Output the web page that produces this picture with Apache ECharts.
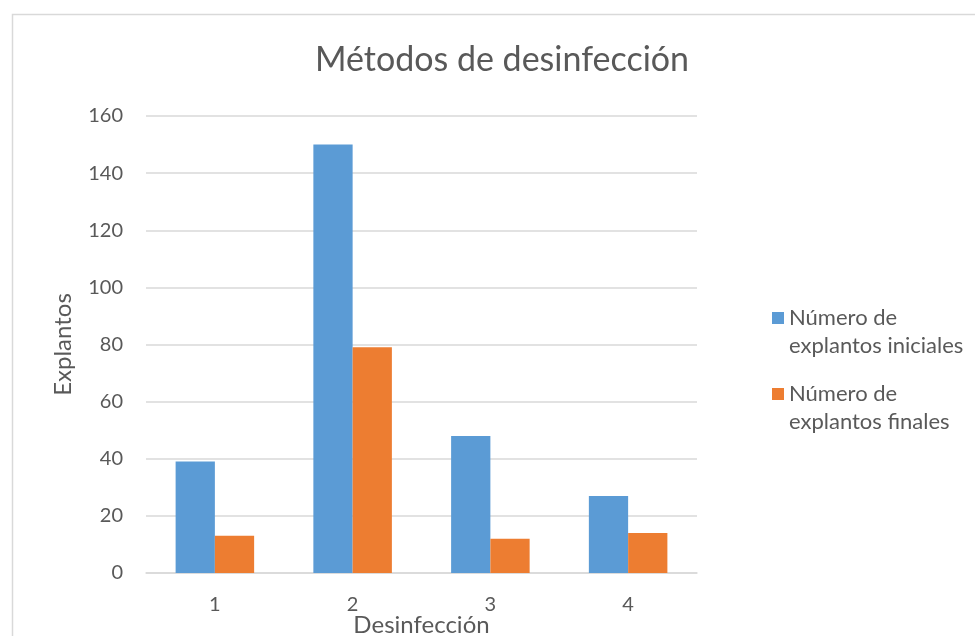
<!DOCTYPE html>
<html>
<head>
<meta charset="utf-8">
<script src="https://cdn.jsdelivr.net/npm/echarts@6/dist/echarts.min.js"></script>
<style>
  html, body { margin: 0; padding: 0; background: #ffffff; overflow: hidden; }
  #chart { width: 975px; height: 636px; }
</style>
</head>
<body>
<div id="chart"></div>
<script>
// Disinfection methods and explant counts
const categories = ['1', '2', '3', '4'];
const initialExplants = [39, 150, 48, 27];
const finalExplants = [13, 79, 12, 14];
const seriesNames = ['Número de\nexplantos iniciales', 'Número de\nexplantos finales'];
const yTicks = { min: 0, max: 160, interval: 20 };

const FONT = 'Lato, "Open Sans", sans-serif';
const TEXT = '#595959';

// Legend swatch sits beside the first text line: a square at the top of a tall, otherwise empty box
const SWATCH = 'path://M0,0H12V12H0Z M0,40H12';

const chart = echarts.init(document.getElementById('chart'), null, { renderer: 'canvas' });

chart.setOption({
  animation: false,
  backgroundColor: '#ffffff',
  textStyle: { fontFamily: FONT },
  graphic: [{
    type: 'rect',
    shape: { x: 12.5, y: 14.5, width: 1000, height: 700 },
    style: { fill: 'none', stroke: '#d9d9d9', lineWidth: 1.5 },
    silent: true,
    z: -10
  }],
  title: {
    text: 'Métodos de desinfección',
    left: 497,
    textAlign: 'center',
    top: 38,
    textStyle: { fontFamily: FONT, fontSize: 34, fontWeight: 'normal', color: TEXT }
  },
  legend: {
    orient: 'vertical',
    left: 767,
    top: 299,
    itemWidth: 12,
    itemHeight: 40,
    itemGap: 20,
    icon: SWATCH,
    textStyle: { fontFamily: FONT, fontSize: 22, color: TEXT, lineHeight: 28 },
    data: seriesNames
  },
  // Fixed plot box; the x-axis title is allowed to sit right at the bottom edge
  grid: {
    left: 146, right: 278, top: 116, height: 457,
    containLabel: false,
    outerBoundsMode: 'none'
  },
  xAxis: {
    type: 'category',
    data: categories,
    name: 'Desinfección',
    nameLocation: 'middle',
    nameGap: 40,
    nameMoveOverlap: false,
    nameTextStyle: { fontFamily: FONT, fontSize: 24, color: TEXT },
    axisLine: { lineStyle: { color: '#d9d9d9', width: 1.5 } },
    axisTick: { show: false },
    axisLabel: { fontFamily: FONT, fontSize: 20, color: TEXT, margin: 22 }
  },
  yAxis: {
    type: 'value',
    min: yTicks.min,
    max: yTicks.max,
    interval: yTicks.interval,
    name: 'Explantos',
    nameLocation: 'middle',
    nameGap: 71,
    nameMoveOverlap: false,
    nameRotate: 90,
    nameTextStyle: { fontFamily: FONT, fontSize: 24, color: TEXT },
    axisLine: { show: false },
    axisTick: { show: false },
    axisLabel: { fontFamily: FONT, fontSize: 20, color: TEXT, margin: 23 },
    splitLine: { lineStyle: { color: '#d9d9d9', width: 1.5 } }
  },
  series: [
    {
      name: seriesNames[0],
      type: 'bar',
      data: initialExplants,
      barGap: '0%',
      barCategoryGap: '43%',
      itemStyle: { color: '#5b9bd5' }
    },
    {
      name: seriesNames[1],
      type: 'bar',
      data: finalExplants,
      itemStyle: { color: '#ed7d31' }
    }
  ]
});
</script>
</body>
</html>
